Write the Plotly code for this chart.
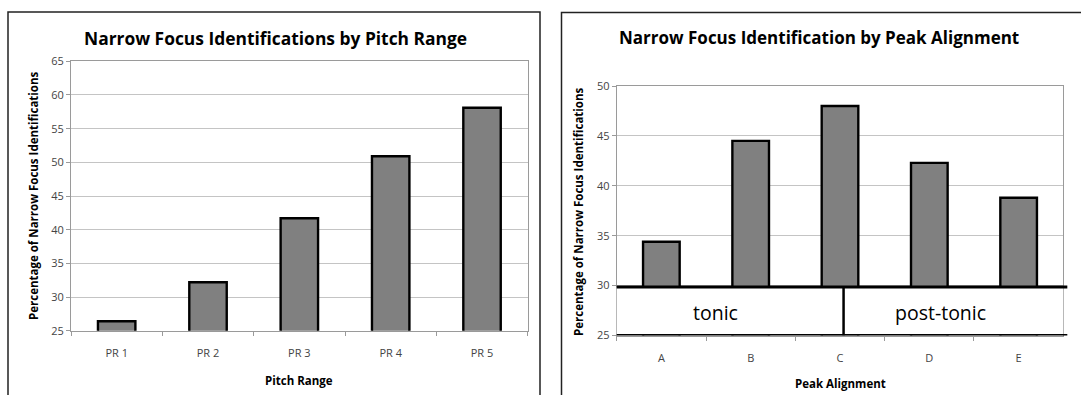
import plotly.graph_objects as go

pitch_categories = ["PR 1", "PR 2", "PR 3", "PR 4", "PR 5"]
pitch_values = [26.4, 32.2, 41.7, 50.9, 58.1]

peak_categories = ["A", "B", "C", "D", "E"]
peak_values = [34.4, 44.5, 48.0, 42.3, 38.8]

W, H = 1081, 395
FONT = "Open Sans"

def px(x):
    return x / W

def py(y):
    return (H - y) / H

fig = go.Figure()
bar_style = dict(marker=dict(color="#808080", line=dict(color="#000000", width=2.4)),
                 showlegend=False, hoverinfo="x+y")
fig.add_trace(go.Bar(x=pitch_categories, y=pitch_values, xaxis="x", yaxis="y", **bar_style))
fig.add_trace(go.Bar(x=peak_categories, y=peak_values, xaxis="x2", yaxis="y2", **bar_style))

axis_common = dict(showline=True, linecolor="#9a9a9a", linewidth=1, mirror=True, automargin=False,
                   tickfont=dict(family=FONT, size=11, color="#444444"))
fig.update_layout(
    width=W, height=H,
    margin=dict(l=0, r=0, t=0, b=0, pad=0, autoexpand=False),
    paper_bgcolor="white", plot_bgcolor="white",
    showlegend=False,
    bargap=0.59,
    xaxis=dict(domain=[px(71), px(527.7)], anchor="y", type="category",
               ticks="outside", tickson="boundaries", ticklen=4, tickcolor="#9a9a9a",
               ticklabelstandoff=12, showgrid=False, **axis_common),
    yaxis=dict(domain=[py(330.7), py(61.3)], anchor="x", range=[25, 65], dtick=5,
               ticks="outside", ticklen=4, tickcolor="#9a9a9a",
               showgrid=True, gridcolor="#c4c4c4", gridwidth=1, zeroline=False, **axis_common),
    xaxis2=dict(domain=[px(616.7), px(1063.3)], anchor="y2", type="category",
                ticks="outside", tickson="boundaries", ticklen=4, tickcolor="#9a9a9a",
                ticklabelstandoff=12, showgrid=False, **axis_common),
    yaxis2=dict(domain=[py(335.5), py(86)], anchor="x2", range=[25, 50], dtick=5,
                ticks="outside", ticklen=4, tickcolor="#9a9a9a",
                showgrid=True, gridcolor="#c4c4c4", gridwidth=1, zeroline=False, **axis_common),
)

shapes = [
    # outer frames
    dict(type="rect", xref="paper", yref="paper", x0=px(8), x1=px(540), y0=-0.05, y1=py(12),
         line=dict(color="#222222", width=1.5), fillcolor="rgba(0,0,0,0)", layer="above"),
    dict(type="rect", xref="paper", yref="paper", x0=px(561.5), x1=1.05, y0=-0.05, y1=py(12.5),
         line=dict(color="#222222", width=1.5), fillcolor="rgba(0,0,0,0)", layer="above"),
    # white band for tonic / post-tonic
    dict(type="rect", xref="x2 domain", yref="y2", x0=0, x1=1, y0=25, y1=29.85,
         fillcolor="white", line=dict(width=0), layer="above"),
    dict(type="line", xref="x2 domain", yref="y2", x0=0, x1=1.009, y0=29.85, y1=29.85,
         line=dict(color="black", width=3), layer="above"),
    dict(type="line", xref="x2 domain", yref="y2", x0=0, x1=1.009, y0=25, y1=25,
         line=dict(color="black", width=3), layer="above"),
    dict(type="line", xref="x2", yref="y2", x0=2.04, x1=2.04, y0=25, y1=29.85,
         line=dict(color="black", width=2.5), layer="above"),
]
fig.update_layout(shapes=shapes)

ann = [
    dict(text="<b>Narrow Focus Identifications by Pitch Range</b>", x=px(275), y=py(38),
         font=dict(family=FONT, size=17.4, color="#000000")),
    dict(text="<b>Narrow Focus Identification by Peak Alignment</b>", x=px(819), y=py(38),
         font=dict(family=FONT, size=17, color="#000000")),
    dict(text="<b>Percentage of Narrow Focus Identifications</b>", x=px(33), y=py(196),
         textangle=-90, font=dict(family=FONT, size=11.5, color="#000000")),
    dict(text="<b>Percentage of Narrow Focus Identifications</b>", x=px(578), y=py(212),
         textangle=-90, font=dict(family=FONT, size=11.5, color="#000000")),
    dict(text="<b>Pitch Range</b>", x=px(299), y=py(380),
         font=dict(family=FONT, size=11.5, color="#000000")),
    dict(text="<b>Peak Alignment</b>", x=px(840), y=py(383),
         font=dict(family=FONT, size=11.5, color="#000000")),
]
for a in ann:
    a.update(xref="paper", yref="paper", showarrow=False, xanchor="center", yanchor="middle")
fig.update_layout(annotations=ann)

fig.add_annotation(text="tonic", xref="x2", yref="y2", x=0.61, y=27.35, showarrow=False,
                   font=dict(family=FONT, size=19.5, color="#000000"))
fig.add_annotation(text="post-tonic", xref="x2", yref="y2", x=3.12, y=27.35, showarrow=False,
                   font=dict(family=FONT, size=19.5, color="#000000"))

fig.write_html("out.html", config={"displayModeBar": False},
               post_script="document.body.style.margin='0';document.body.style.overflow='hidden';")
